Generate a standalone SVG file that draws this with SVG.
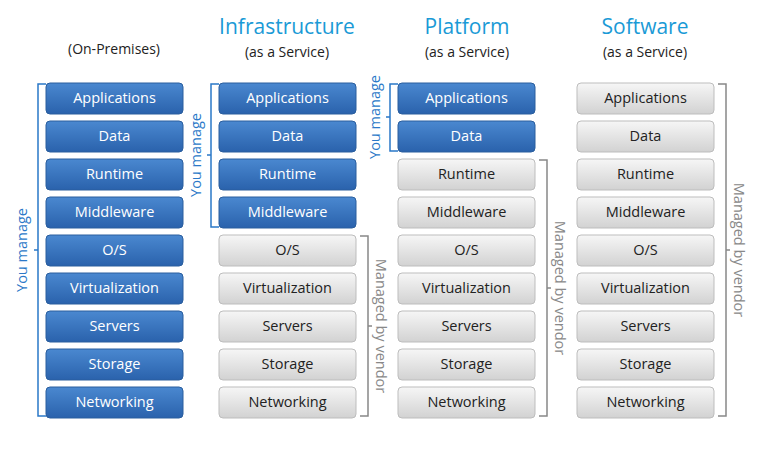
<svg xmlns="http://www.w3.org/2000/svg" width="774" height="450" viewBox="0 0 774 450">
<style>
text{font-family:"Segoe UI","Open Sans","Noto Sans",sans-serif;text-anchor:middle}
.b rect{fill:url(#gb);stroke:#2a5e9e;stroke-width:1}
.g rect{fill:url(#gg);stroke:#bdbdbd;stroke-width:1}
.b text{fill:#fff;font-size:14.5px}
.g text{fill:#222;font-size:14.5px}
.h{fill:#1a9ad6;font-size:21px}
.s{fill:#222;font-size:14px}
.bl{fill:none;stroke:#2a78c8;stroke-width:1.5}
.gl{fill:none;stroke:#888;stroke-width:1.5}
.bt{fill:#2a78c8;font-size:14.5px}
.gt{fill:#888;font-size:14.5px}
</style>
<defs>
<linearGradient id="gb" x1="0" y1="0" x2="0" y2="1"><stop offset="0" stop-color="#4a88d0"/><stop offset="1" stop-color="#2a62ac"/></linearGradient>
<linearGradient id="gg" x1="0" y1="0" x2="0" y2="1"><stop offset="0" stop-color="#f6f6f6"/><stop offset="1" stop-color="#d2d2d2"/></linearGradient>
</defs>
<rect width="774" height="450" fill="#fff"/>
<text class="s" x="114" y="54">(On-Premises)</text>
<text class="h" x="287" y="34">Infrastructure</text><text class="s" x="287" y="57">(as a Service)</text>
<text class="h" x="467" y="34">Platform</text><text class="s" x="467" y="57">(as a Service)</text>
<text class="h" x="645" y="34">Software</text><text class="s" x="645" y="57">(as a Service)</text>
<g id="c1">
<g class="b"><rect x="46" y="83" width="137" height="31" rx="4"/><text x="114.5" y="103">Applications</text></g>
<g class="b"><rect x="46" y="121" width="137" height="31" rx="4"/><text x="114.5" y="141">Data</text></g>
<g class="b"><rect x="46" y="159" width="137" height="31" rx="4"/><text x="114.5" y="179">Runtime</text></g>
<g class="b"><rect x="46" y="197" width="137" height="31" rx="4"/><text x="114.5" y="217">Middleware</text></g>
<g class="b"><rect x="46" y="235" width="137" height="31" rx="4"/><text x="114.5" y="255">O/S</text></g>
<g class="b"><rect x="46" y="273" width="137" height="31" rx="4"/><text x="114.5" y="293">Virtualization</text></g>
<g class="b"><rect x="46" y="311" width="137" height="31" rx="4"/><text x="114.5" y="331">Servers</text></g>
<g class="b"><rect x="46" y="349" width="137" height="31" rx="4"/><text x="114.5" y="369">Storage</text></g>
<g class="b"><rect x="46" y="387" width="137" height="31" rx="4"/><text x="114.5" y="407">Networking</text></g>
</g>
<g id="c2">
<g class="b"><rect x="219" y="83" width="137" height="31" rx="4"/><text x="287.5" y="103">Applications</text></g>
<g class="b"><rect x="219" y="121" width="137" height="31" rx="4"/><text x="287.5" y="141">Data</text></g>
<g class="b"><rect x="219" y="159" width="137" height="31" rx="4"/><text x="287.5" y="179">Runtime</text></g>
<g class="b"><rect x="219" y="197" width="137" height="31" rx="4"/><text x="287.5" y="217">Middleware</text></g>
<g class="g"><rect x="219" y="235" width="137" height="31" rx="4"/><text x="287.5" y="255">O/S</text></g>
<g class="g"><rect x="219" y="273" width="137" height="31" rx="4"/><text x="287.5" y="293">Virtualization</text></g>
<g class="g"><rect x="219" y="311" width="137" height="31" rx="4"/><text x="287.5" y="331">Servers</text></g>
<g class="g"><rect x="219" y="349" width="137" height="31" rx="4"/><text x="287.5" y="369">Storage</text></g>
<g class="g"><rect x="219" y="387" width="137" height="31" rx="4"/><text x="287.5" y="407">Networking</text></g>
</g>
<g id="c3">
<g class="b"><rect x="398" y="83" width="137" height="31" rx="4"/><text x="466.5" y="103">Applications</text></g>
<g class="b"><rect x="398" y="121" width="137" height="31" rx="4"/><text x="466.5" y="141">Data</text></g>
<g class="g"><rect x="398" y="159" width="137" height="31" rx="4"/><text x="466.5" y="179">Runtime</text></g>
<g class="g"><rect x="398" y="197" width="137" height="31" rx="4"/><text x="466.5" y="217">Middleware</text></g>
<g class="g"><rect x="398" y="235" width="137" height="31" rx="4"/><text x="466.5" y="255">O/S</text></g>
<g class="g"><rect x="398" y="273" width="137" height="31" rx="4"/><text x="466.5" y="293">Virtualization</text></g>
<g class="g"><rect x="398" y="311" width="137" height="31" rx="4"/><text x="466.5" y="331">Servers</text></g>
<g class="g"><rect x="398" y="349" width="137" height="31" rx="4"/><text x="466.5" y="369">Storage</text></g>
<g class="g"><rect x="398" y="387" width="137" height="31" rx="4"/><text x="466.5" y="407">Networking</text></g>
</g>
<g id="c4">
<g class="g"><rect x="577" y="83" width="137" height="31" rx="4"/><text x="645.5" y="103">Applications</text></g>
<g class="g"><rect x="577" y="121" width="137" height="31" rx="4"/><text x="645.5" y="141">Data</text></g>
<g class="g"><rect x="577" y="159" width="137" height="31" rx="4"/><text x="645.5" y="179">Runtime</text></g>
<g class="g"><rect x="577" y="197" width="137" height="31" rx="4"/><text x="645.5" y="217">Middleware</text></g>
<g class="g"><rect x="577" y="235" width="137" height="31" rx="4"/><text x="645.5" y="255">O/S</text></g>
<g class="g"><rect x="577" y="273" width="137" height="31" rx="4"/><text x="645.5" y="293">Virtualization</text></g>
<g class="g"><rect x="577" y="311" width="137" height="31" rx="4"/><text x="645.5" y="331">Servers</text></g>
<g class="g"><rect x="577" y="349" width="137" height="31" rx="4"/><text x="645.5" y="369">Storage</text></g>
<g class="g"><rect x="577" y="387" width="137" height="31" rx="4"/><text x="645.5" y="407">Networking</text></g>
</g>
<g id="brackets">
<path class="bl" d="M46 84H38V416H46M38 250H34"/>
<text class="bt" transform="translate(27 250) rotate(-90)">You manage</text>
<path class="bl" d="M219 84H211V227H219M211 155H207"/>
<text class="bt" transform="translate(201 155) rotate(-90)">You manage</text>
<path class="bl" d="M398 84H390V151H398M390 117H386"/>
<text class="bt" transform="translate(380 117) rotate(-90)">You manage</text>
<path class="gl" d="M360 236H368V416H360M368 326H372"/>
<text class="gt" transform="translate(376 326) rotate(90)">Managed by vendor</text>
<path class="gl" d="M539 160H547V416H539M547 288H551"/>
<text class="gt" transform="translate(555 288) rotate(90)">Managed by vendor</text>
<path class="gl" d="M718 84H726V416H718M726 250H730"/>
<text class="gt" transform="translate(734 250) rotate(90)">Managed by vendor</text>
</g>
</svg>
